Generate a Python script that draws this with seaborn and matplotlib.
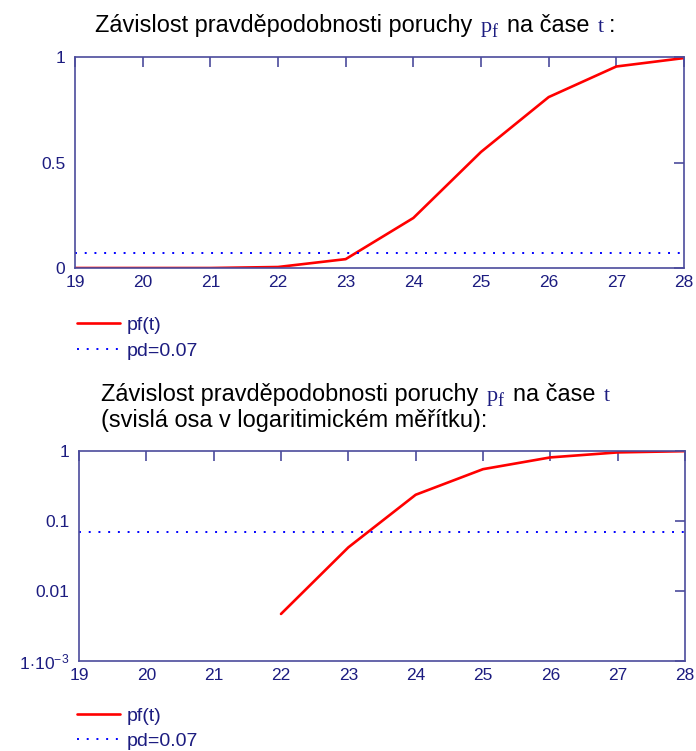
import numpy as np
import pandas as pd
import matplotlib
matplotlib.use("Agg")
import matplotlib.pyplot as plt
import seaborn as sns

# Failure probability pf over time t, design limit pd
t_values = [19, 20, 21, 22, 23, 24, 25, 26, 27, 28]
pf_values = [0.0, 0.0, 0.0, 0.0047, 0.042, 0.237, 0.55, 0.81, 0.955, 0.995]
pd_value = 0.07

lin_ticks = [0, 0.5, 1]
lin_labels = ["0", "0.5", "1"]
log_ticks = [1e-3, 1e-2, 1e-1, 1]
log_labels = [r"$1\!\cdot\!10^{-3}$", "0.01", "0.1", "1"]

title_main = "Závislost pravděpodobnosti poruchy"
title_mid = "na čase"
title_log2 = "(svislá osa v logaritimickém měřítku):"

sns.set_style("white")
plt.rcParams["font.family"] = ["Liberation Sans", "DejaVu Sans"]
plt.rcParams["mathtext.fontset"] = "custom"
plt.rcParams["mathtext.rm"] = "Liberation Sans"
plt.rcParams["mathtext.it"] = "Liberation Sans"

SPINE = "#4c4c9c"
NAVY = "#1c1c80"
RED = "#ff0000"
BLUE = "#0000ff"

df = pd.DataFrame({"t": t_values, "pf": pf_values})
df["pd"] = pd_value
df_pos = df[df["pf"] > 0]

fig = plt.figure(figsize=(6.96, 7.51), dpi=100)
W, H = 696, 751

def axes_px(x0, y0, x1, y1):
    return fig.add_axes([x0 / W, 1 - y1 / H, (x1 - x0) / W, (y1 - y0) / H])

ax1 = axes_px(75, 57, 684, 268)
ax2 = axes_px(79, 451, 685, 661)

def style_axes(ax):
    for s in ax.spines.values():
        s.set_color(SPINE)
        s.set_linewidth(1.2)
    ax.set_xlim(19, 28)
    ax.set_xticks(t_values)
    ax.tick_params(axis="both", which="major", direction="in", length=7,
                   width=1.2, color=SPINE, labelcolor=NAVY, labelsize=12.5,
                   top=True, right=True)
    ax.tick_params(axis="x", pad=5)
    ax.tick_params(axis="y", pad=7)
    ax.tick_params(axis="both", which="minor", length=0)
    ax.set_xlabel("")
    ax.set_ylabel("")

# Linear plot
sns.lineplot(data=df, x="t", y="pf", ax=ax1, color=RED, lw=1.9, label="pf(t)")
sns.lineplot(data=df, x="t", y="pd", ax=ax1, color=BLUE, lw=1.4,
             linestyle=(0, (1, 4)), label="pd=0.07")
ax1.set_ylim(0, 1)
style_axes(ax1)
ax1.set_yticks(lin_ticks, lin_labels)

# Logarithmic plot
sns.lineplot(data=df_pos, x="t", y="pf", ax=ax2, color=RED, lw=1.9, label="pf(t)")
sns.lineplot(data=df, x="t", y="pd", ax=ax2, color=BLUE, lw=1.4,
             linestyle=(0, (1, 4)), label="pd=0.07")
ax2.set_yscale("log")
ax2.set_ylim(1e-3, 1)
style_axes(ax2)
ax2.set_yticks(log_ticks, log_labels)
ax2.minorticks_off()

for ax, top_px, spacing in ((ax1, 316, 0.45), (ax2, 707, 0.38)):
    ax.legend(loc="upper left", bbox_to_anchor=(77 / W, 1 - top_px / H),
              bbox_transform=fig.transFigure, frameon=False, fontsize=14,
              handlelength=2.2, handletextpad=0.36, labelspacing=spacing,
              borderpad=0, borderaxespad=0, labelcolor=NAVY)

# Titles with mixed fonts; each piece is (text, style, vertical shift, gap after)
renderer = fig.canvas.get_renderer()

def put_pieces(x_px, y_px, pieces):
    x = x_px
    for txt, kw, dy, gap in pieces:
        t = fig.text(x / W, 1 - (y_px + dy) / H, txt, va="baseline", ha="left", **kw)
        bb = t.get_window_extent(renderer=renderer)
        x += bb.width + gap

TFS = 16.9
black = dict(color="black", fontsize=TFS)
serif = ["Liberation Serif", "DejaVu Serif"]
sym = dict(color=NAVY, fontsize=16, family=serif)
sub = dict(color=NAVY, fontsize=13, family=serif)

put_pieces(95, 32, [(title_main, black, 0, 8), ("p", sym, 0, 0), ("f", sub, 5, 10),
                    (title_mid, black, 0, 8), ("t", sym, 0, 5), (":", black, 0, 0)])
put_pieces(101, 401, [(title_main, black, 0, 8), ("p", sym, 0, 0), ("f", sub, 5, 10),
                      (title_mid, black, 0, 8), ("t", sym, 0, 0)])
fig.text(101 / W, 1 - 427 / H, title_log2, color="black", fontsize=TFS, va="baseline")

fig.savefig("out.png", dpi=100, facecolor="white")
